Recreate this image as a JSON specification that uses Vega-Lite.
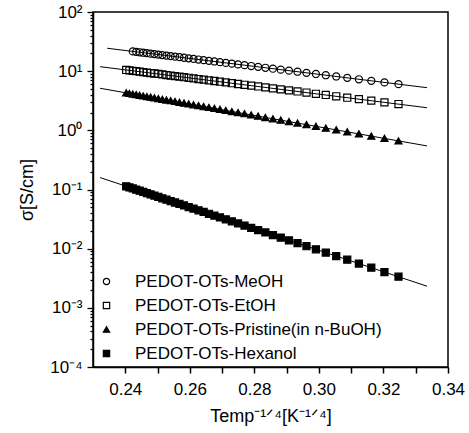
{
  "$schema": "https://vega.github.io/schema/vega-lite/v6.json",
  "width": 355,
  "height": 355,
  "autosize": "none",
  "padding": {"left": 93, "top": 12, "right": 21, "bottom": 66},
  "background": "white",
  "config": {
    "view": {"stroke": "black", "strokeWidth": 1.5},
    "font": "Liberation Sans",
    "axis": {
      "labelFont": "Liberation Sans", "titleFont": "Liberation Sans",
      "labelColor": "black", "titleColor": "black", "domainColor": "black", "tickColor": "black",
      "domainWidth": 1.5, "tickWidth": 1.3, "grid": false, "labelFontSize": 17, "titleFontSize": 18,
      "titleFontWeight": "normal", "labelOverlap": false, "labelFlush": false, "labelBound": false
    },
    "axisBottom": {"ticks": true, "tickColor": "#000000", "tickOpacity": 1, "tickWidth": 1.5, "tickSize": 6},
    "legend": {
      "labelFont": "Liberation Sans", "labelFontSize": 17, "labelColor": "black", "labelLimit": 400,
      "symbolStrokeColor": "black", "symbolStrokeWidth": 1.2, "symbolSize": 40,
      "rowPadding": 6, "labelOffset": 20, "padding": 0
    }
  },
  "datasets": {
    "points": [
      {"s":"PEDOT-OTs-MeOH","x":0.24233,"y":21.55},{"s":"PEDOT-OTs-MeOH","x":0.24338,"y":21.21},{"s":"PEDOT-OTs-MeOH","x":0.24446,"y":20.86},{"s":"PEDOT-OTs-MeOH","x":0.24557,"y":20.50},{"s":"PEDOT-OTs-MeOH","x":0.2467,"y":20.15},{"s":"PEDOT-OTs-MeOH","x":0.24785,"y":19.79},{"s":"PEDOT-OTs-MeOH","x":0.24903,"y":19.43},{"s":"PEDOT-OTs-MeOH","x":0.25024,"y":19.07},{"s":"PEDOT-OTs-MeOH","x":0.25149,"y":18.71},{"s":"PEDOT-OTs-MeOH","x":0.25276,"y":18.34},{"s":"PEDOT-OTs-MeOH","x":0.25407,"y":17.98},{"s":"PEDOT-OTs-MeOH","x":0.25541,"y":17.61},{"s":"PEDOT-OTs-MeOH","x":0.25679,"y":17.23},{"s":"PEDOT-OTs-MeOH","x":0.2582,"y":16.86},{"s":"PEDOT-OTs-MeOH","x":0.25965,"y":16.49},{"s":"PEDOT-OTs-MeOH","x":0.26115,"y":16.11},{"s":"PEDOT-OTs-MeOH","x":0.2627,"y":15.73},{"s":"PEDOT-OTs-MeOH","x":0.26428,"y":15.35},{"s":"PEDOT-OTs-MeOH","x":0.26592,"y":14.96},{"s":"PEDOT-OTs-MeOH","x":0.26761,"y":14.58},{"s":"PEDOT-OTs-MeOH","x":0.26934,"y":14.19},{"s":"PEDOT-OTs-MeOH","x":0.27115,"y":13.80},{"s":"PEDOT-OTs-MeOH","x":0.27302,"y":13.41},{"s":"PEDOT-OTs-MeOH","x":0.27494,"y":13.02},{"s":"PEDOT-OTs-MeOH","x":0.27695,"y":12.62},{"s":"PEDOT-OTs-MeOH","x":0.27902,"y":12.22},{"s":"PEDOT-OTs-MeOH","x":0.28117,"y":11.82},{"s":"PEDOT-OTs-MeOH","x":0.28342,"y":11.41},{"s":"PEDOT-OTs-MeOH","x":0.28575,"y":11.01},{"s":"PEDOT-OTs-MeOH","x":0.28818,"y":10.60},{"s":"PEDOT-OTs-MeOH","x":0.29072,"y":10.19},{"s":"PEDOT-OTs-MeOH","x":0.29337,"y":9.79},{"s":"PEDOT-OTs-MeOH","x":0.29615,"y":9.37},{"s":"PEDOT-OTs-MeOH","x":0.29907,"y":8.96},{"s":"PEDOT-OTs-MeOH","x":0.30213,"y":8.54},{"s":"PEDOT-OTs-MeOH","x":0.30537,"y":8.13},{"s":"PEDOT-OTs-MeOH","x":0.30878,"y":7.71},{"s":"PEDOT-OTs-MeOH","x":0.31239,"y":7.29},{"s":"PEDOT-OTs-MeOH","x":0.31623,"y":6.87},{"s":"PEDOT-OTs-MeOH","x":0.32031,"y":6.45},{"s":"PEDOT-OTs-MeOH","x":0.32466,"y":6.03},
      {"s":"PEDOT-OTs-EtOH","x":0.24028,"y":10.48},{"s":"PEDOT-OTs-EtOH","x":0.24129,"y":10.32},{"s":"PEDOT-OTs-EtOH","x":0.24233,"y":10.15},{"s":"PEDOT-OTs-EtOH","x":0.24338,"y":9.98},{"s":"PEDOT-OTs-EtOH","x":0.24446,"y":9.81},{"s":"PEDOT-OTs-EtOH","x":0.24557,"y":9.64},{"s":"PEDOT-OTs-EtOH","x":0.2467,"y":9.47},{"s":"PEDOT-OTs-EtOH","x":0.24785,"y":9.30},{"s":"PEDOT-OTs-EtOH","x":0.24903,"y":9.13},{"s":"PEDOT-OTs-EtOH","x":0.25024,"y":8.96},{"s":"PEDOT-OTs-EtOH","x":0.25149,"y":8.79},{"s":"PEDOT-OTs-EtOH","x":0.25276,"y":8.61},{"s":"PEDOT-OTs-EtOH","x":0.25407,"y":8.44},{"s":"PEDOT-OTs-EtOH","x":0.25541,"y":8.26},{"s":"PEDOT-OTs-EtOH","x":0.25679,"y":8.08},{"s":"PEDOT-OTs-EtOH","x":0.2582,"y":7.91},{"s":"PEDOT-OTs-EtOH","x":0.25965,"y":7.73},{"s":"PEDOT-OTs-EtOH","x":0.26115,"y":7.55},{"s":"PEDOT-OTs-EtOH","x":0.2627,"y":7.36},{"s":"PEDOT-OTs-EtOH","x":0.26428,"y":7.18},{"s":"PEDOT-OTs-EtOH","x":0.26592,"y":7.00},{"s":"PEDOT-OTs-EtOH","x":0.26761,"y":6.82},{"s":"PEDOT-OTs-EtOH","x":0.26934,"y":6.63},{"s":"PEDOT-OTs-EtOH","x":0.27115,"y":6.45},{"s":"PEDOT-OTs-EtOH","x":0.27302,"y":6.26},{"s":"PEDOT-OTs-EtOH","x":0.27494,"y":6.07},{"s":"PEDOT-OTs-EtOH","x":0.27695,"y":5.89},{"s":"PEDOT-OTs-EtOH","x":0.27902,"y":5.70},{"s":"PEDOT-OTs-EtOH","x":0.28117,"y":5.51},{"s":"PEDOT-OTs-EtOH","x":0.28342,"y":5.31},{"s":"PEDOT-OTs-EtOH","x":0.28575,"y":5.12},{"s":"PEDOT-OTs-EtOH","x":0.28818,"y":4.93},{"s":"PEDOT-OTs-EtOH","x":0.29072,"y":4.74},{"s":"PEDOT-OTs-EtOH","x":0.29337,"y":4.54},{"s":"PEDOT-OTs-EtOH","x":0.29615,"y":4.35},{"s":"PEDOT-OTs-EtOH","x":0.29907,"y":4.15},{"s":"PEDOT-OTs-EtOH","x":0.30213,"y":3.96},{"s":"PEDOT-OTs-EtOH","x":0.30537,"y":3.76},{"s":"PEDOT-OTs-EtOH","x":0.30878,"y":3.56},{"s":"PEDOT-OTs-EtOH","x":0.31239,"y":3.37},{"s":"PEDOT-OTs-EtOH","x":0.31623,"y":3.17},{"s":"PEDOT-OTs-EtOH","x":0.32031,"y":2.97},{"s":"PEDOT-OTs-EtOH","x":0.32466,"y":2.78},
      {"s":"PEDOT-OTs-Pristine(in n-BuOH)","x":0.24028,"y":4.30},{"s":"PEDOT-OTs-Pristine(in n-BuOH)","x":0.24129,"y":4.21},{"s":"PEDOT-OTs-Pristine(in n-BuOH)","x":0.24233,"y":4.11},{"s":"PEDOT-OTs-Pristine(in n-BuOH)","x":0.24338,"y":4.02},{"s":"PEDOT-OTs-Pristine(in n-BuOH)","x":0.24446,"y":3.92},{"s":"PEDOT-OTs-Pristine(in n-BuOH)","x":0.24557,"y":3.82},{"s":"PEDOT-OTs-Pristine(in n-BuOH)","x":0.2467,"y":3.73},{"s":"PEDOT-OTs-Pristine(in n-BuOH)","x":0.24785,"y":3.64},{"s":"PEDOT-OTs-Pristine(in n-BuOH)","x":0.24903,"y":3.54},{"s":"PEDOT-OTs-Pristine(in n-BuOH)","x":0.25024,"y":3.45},{"s":"PEDOT-OTs-Pristine(in n-BuOH)","x":0.25149,"y":3.35},{"s":"PEDOT-OTs-Pristine(in n-BuOH)","x":0.25276,"y":3.26},{"s":"PEDOT-OTs-Pristine(in n-BuOH)","x":0.25407,"y":3.17},{"s":"PEDOT-OTs-Pristine(in n-BuOH)","x":0.25541,"y":3.08},{"s":"PEDOT-OTs-Pristine(in n-BuOH)","x":0.25679,"y":2.98},{"s":"PEDOT-OTs-Pristine(in n-BuOH)","x":0.2582,"y":2.89},{"s":"PEDOT-OTs-Pristine(in n-BuOH)","x":0.25965,"y":2.80},{"s":"PEDOT-OTs-Pristine(in n-BuOH)","x":0.26115,"y":2.71},{"s":"PEDOT-OTs-Pristine(in n-BuOH)","x":0.2627,"y":2.62},{"s":"PEDOT-OTs-Pristine(in n-BuOH)","x":0.26428,"y":2.53},{"s":"PEDOT-OTs-Pristine(in n-BuOH)","x":0.26592,"y":2.44},{"s":"PEDOT-OTs-Pristine(in n-BuOH)","x":0.26761,"y":2.35},{"s":"PEDOT-OTs-Pristine(in n-BuOH)","x":0.26934,"y":2.26},{"s":"PEDOT-OTs-Pristine(in n-BuOH)","x":0.27115,"y":2.17},{"s":"PEDOT-OTs-Pristine(in n-BuOH)","x":0.27302,"y":2.08},{"s":"PEDOT-OTs-Pristine(in n-BuOH)","x":0.27494,"y":2.00},{"s":"PEDOT-OTs-Pristine(in n-BuOH)","x":0.27695,"y":1.91},{"s":"PEDOT-OTs-Pristine(in n-BuOH)","x":0.27902,"y":1.82},{"s":"PEDOT-OTs-Pristine(in n-BuOH)","x":0.28117,"y":1.74},{"s":"PEDOT-OTs-Pristine(in n-BuOH)","x":0.28342,"y":1.65},{"s":"PEDOT-OTs-Pristine(in n-BuOH)","x":0.28575,"y":1.57},{"s":"PEDOT-OTs-Pristine(in n-BuOH)","x":0.28818,"y":1.49},{"s":"PEDOT-OTs-Pristine(in n-BuOH)","x":0.29072,"y":1.41},{"s":"PEDOT-OTs-Pristine(in n-BuOH)","x":0.29337,"y":1.33},{"s":"PEDOT-OTs-Pristine(in n-BuOH)","x":0.29615,"y":1.25},{"s":"PEDOT-OTs-Pristine(in n-BuOH)","x":0.29907,"y":1.17},{"s":"PEDOT-OTs-Pristine(in n-BuOH)","x":0.30213,"y":1.09},{"s":"PEDOT-OTs-Pristine(in n-BuOH)","x":0.30537,"y":1.02},{"s":"PEDOT-OTs-Pristine(in n-BuOH)","x":0.30878,"y":0.943},{"s":"PEDOT-OTs-Pristine(in n-BuOH)","x":0.31239,"y":0.871},{"s":"PEDOT-OTs-Pristine(in n-BuOH)","x":0.31623,"y":0.800},{"s":"PEDOT-OTs-Pristine(in n-BuOH)","x":0.32031,"y":0.731},{"s":"PEDOT-OTs-Pristine(in n-BuOH)","x":0.32466,"y":0.663},
      {"s":"PEDOT-OTs-Hexanol","x":0.24028,"y":0.1134},{"s":"PEDOT-OTs-Hexanol","x":0.24129,"y":0.1087},{"s":"PEDOT-OTs-Hexanol","x":0.24233,"y":0.1041},{"s":"PEDOT-OTs-Hexanol","x":0.24338,"y":0.0996},{"s":"PEDOT-OTs-Hexanol","x":0.24446,"y":0.0953},{"s":"PEDOT-OTs-Hexanol","x":0.24557,"y":0.0909},{"s":"PEDOT-OTs-Hexanol","x":0.2467,"y":0.0868},{"s":"PEDOT-OTs-Hexanol","x":0.24785,"y":0.0827},{"s":"PEDOT-OTs-Hexanol","x":0.24903,"y":0.0787},{"s":"PEDOT-OTs-Hexanol","x":0.25024,"y":0.0748},{"s":"PEDOT-OTs-Hexanol","x":0.25149,"y":0.0710},{"s":"PEDOT-OTs-Hexanol","x":0.25276,"y":0.0674},{"s":"PEDOT-OTs-Hexanol","x":0.25407,"y":0.0638},{"s":"PEDOT-OTs-Hexanol","x":0.25541,"y":0.0603},{"s":"PEDOT-OTs-Hexanol","x":0.25679,"y":0.0569},{"s":"PEDOT-OTs-Hexanol","x":0.2582,"y":0.0537},{"s":"PEDOT-OTs-Hexanol","x":0.25965,"y":0.0505},{"s":"PEDOT-OTs-Hexanol","x":0.26115,"y":0.0475},{"s":"PEDOT-OTs-Hexanol","x":0.2627,"y":0.0445},{"s":"PEDOT-OTs-Hexanol","x":0.26428,"y":0.0417},{"s":"PEDOT-OTs-Hexanol","x":0.26592,"y":0.0389},{"s":"PEDOT-OTs-Hexanol","x":0.26761,"y":0.0363},{"s":"PEDOT-OTs-Hexanol","x":0.26934,"y":0.0338},{"s":"PEDOT-OTs-Hexanol","x":0.27115,"y":0.0313},{"s":"PEDOT-OTs-Hexanol","x":0.27302,"y":0.0289},{"s":"PEDOT-OTs-Hexanol","x":0.27494,"y":0.0267},{"s":"PEDOT-OTs-Hexanol","x":0.27695,"y":0.0246},{"s":"PEDOT-OTs-Hexanol","x":0.27902,"y":0.0225},{"s":"PEDOT-OTs-Hexanol","x":0.28117,"y":0.0206},{"s":"PEDOT-OTs-Hexanol","x":0.28342,"y":0.0188},{"s":"PEDOT-OTs-Hexanol","x":0.28575,"y":0.0170},{"s":"PEDOT-OTs-Hexanol","x":0.28818,"y":0.0154},{"s":"PEDOT-OTs-Hexanol","x":0.29072,"y":0.0138},{"s":"PEDOT-OTs-Hexanol","x":0.29337,"y":0.0124},{"s":"PEDOT-OTs-Hexanol","x":0.29615,"y":0.0110},{"s":"PEDOT-OTs-Hexanol","x":0.29907,"y":0.00977},{"s":"PEDOT-OTs-Hexanol","x":0.30213,"y":0.0086},{"s":"PEDOT-OTs-Hexanol","x":0.30537,"y":0.00751},{"s":"PEDOT-OTs-Hexanol","x":0.30878,"y":0.00652},{"s":"PEDOT-OTs-Hexanol","x":0.31239,"y":0.00561},{"s":"PEDOT-OTs-Hexanol","x":0.31623,"y":0.00478},{"s":"PEDOT-OTs-Hexanol","x":0.32031,"y":0.00403},{"s":"PEDOT-OTs-Hexanol","x":0.32466,"y":0.00336}
    ],
    "fits": [
      {"s":"MeOH","x":0.2344,"y":24.4},{"s":"MeOH","x":0.3335,"y":5.26},
      {"s":"EtOH","x":0.2322,"y":11.9},{"s":"EtOH","x":0.3335,"y":2.41},
      {"s":"Pristine","x":0.2322,"y":5.14},{"s":"Pristine","x":0.3335,"y":0.545},
      {"s":"Hexanol","x":0.2322,"y":0.159},{"s":"Hexanol","x":0.3335,"y":0.00232}
    ]
  },
  "encoding": {
    "x": {
      "field": "x", "type": "quantitative",
      "scale": {"domain": [0.23, 0.34], "nice": false, "zero": false},
      "axis": {
        "orient": "bottom",
        "values": [0.24,0.25,0.26,0.27,0.28,0.29,0.3,0.31,0.32,0.33,0.34],
        "labelExpr": "datum.label == '0.25' || datum.label == '0.27' || datum.label == '0.29' || datum.label == '0.31' || datum.label == '0.33' ? '' : datum.label",
        "format": ".2f",
        "ticks": true,
        "tickSize": 6,
        "labelPadding": 8,
        "title": "Temp⁻¹ᐟ⁴[K⁻¹ᐟ⁴]",
        "titlePadding": 10
      }
    },
    "y": {
      "field": "y", "type": "quantitative",
      "scale": {"type": "log", "domain": [0.0001, 100], "nice": false},
      "axis": {
        "values": [0.0001,0.0002,0.0003,0.0004,0.0005,0.0006,0.0007,0.0008,0.0009,0.001,0.002,0.003,0.004,0.005,0.006,0.007,0.008,0.009,0.01,0.02,0.03,0.04,0.05,0.06,0.07,0.08,0.09,0.1,0.2,0.3,0.4,0.5,0.6,0.7,0.8,0.9,1,2,3,4,5,6,7,8,9,10,20,30,40,50,60,70,80,90,100],
        "labelExpr": "abs(log(datum.value)/LN10 - round(log(datum.value)/LN10)) < 0.01 ? ['10⁻⁴','10⁻³','10⁻²','10⁻¹','10⁰','10¹','10²'][round(log(datum.value)/LN10)+4] : ''",
        "tickSize": {"condition": {"test": "abs(log(datum.value)/LN10 - round(log(datum.value)/LN10)) < 0.01", "value": 6}, "value": 3},
        "labelPadding": 5,
        "title": "σ[S/cm]",
        "titlePadding": 13
      }
    }
  },
  "layer": [
    {
      "data": {"name": "fits"},
      "mark": {"type": "line", "color": "black", "strokeWidth": 1},
      "encoding": {
        "detail": {"field": "s"}
      }
    },
    {
      "data": {"name": "points"},
      "mark": {"type": "point", "filled": true, "strokeWidth": 1.2, "opacity": 1, "size": 50},
      "encoding": {
        "shape": {
          "field": "s", "type": "nominal",
          "scale": {
            "domain": ["PEDOT-OTs-MeOH", "PEDOT-OTs-EtOH", "PEDOT-OTs-Pristine(in n-BuOH)", "PEDOT-OTs-Hexanol"],
            "range": ["circle", "square", "triangle-up", "square"]
          },
          "legend": {"title": null, "orient": "none", "legendX": 5, "legendY": 261, "labelLimit": 400}
        },
        "fill": {
          "field": "s", "type": "nominal",
          "scale": {
            "domain": ["PEDOT-OTs-MeOH", "PEDOT-OTs-EtOH", "PEDOT-OTs-Pristine(in n-BuOH)", "PEDOT-OTs-Hexanol"],
            "range": ["transparent", "transparent", "black", "black"]
          },
          "legend": {"title": null, "orient": "none", "legendX": 5, "legendY": 261, "labelLimit": 400}
        },
        "stroke": {
          "field": "s", "type": "nominal",
          "scale": {
            "domain": ["PEDOT-OTs-MeOH", "PEDOT-OTs-EtOH", "PEDOT-OTs-Pristine(in n-BuOH)", "PEDOT-OTs-Hexanol"],
            "range": ["black", "black", "black", "black"]
          },
          "legend": {"title": null, "orient": "none", "legendX": 5, "legendY": 261, "labelLimit": 400}
        }
      }
    }
  ]
}
